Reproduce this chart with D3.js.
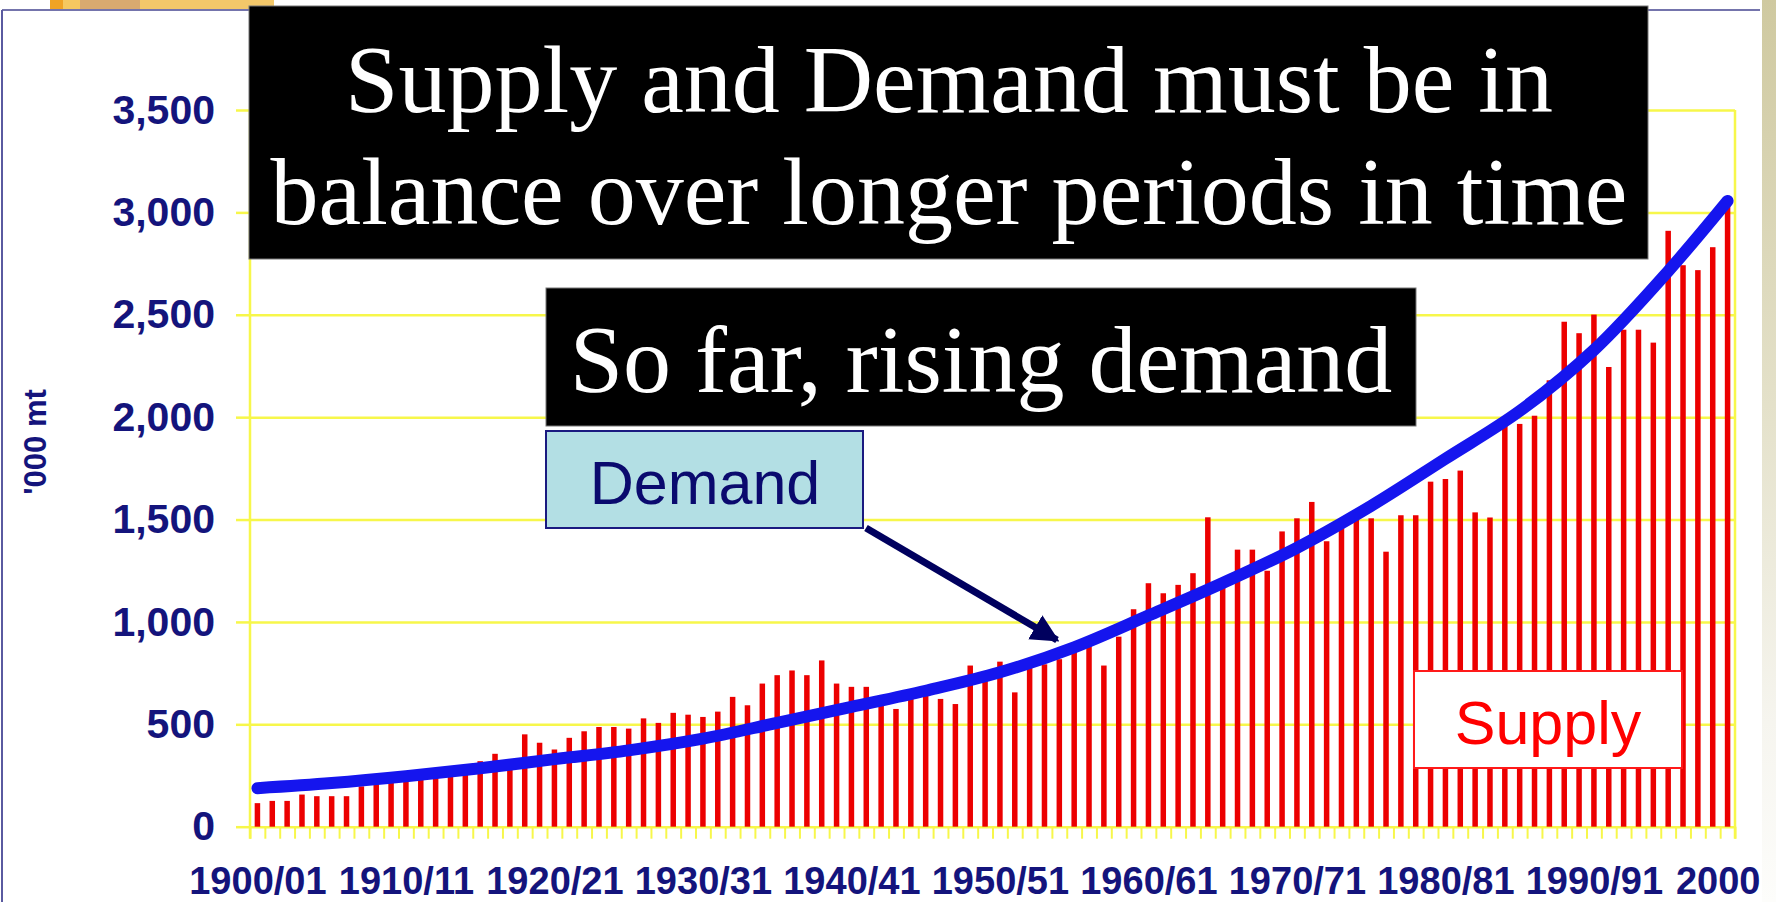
<!DOCTYPE html>
<html>
<head>
<meta charset="utf-8">
<script src="https://cdn.jsdelivr.net/npm/d3@7"></script>
<style>
  html, body { margin: 0; padding: 0; background: #fff; }
  svg { display: block; }
</style>
</head>
<body>
<div id="container"></div>
<script>
/* ---------------- DATA ---------------- */
// one bar per season, 1900/01 .. 1999/00, '000 mt
const startYear = 1900;
const supply = [
  115, 126, 126, 157, 149, 149, 149, 197, 213, 221,
  230, 238, 246, 262, 270, 320, 356, 300, 451, 410,
  377, 434, 466, 487, 487, 479, 529, 507, 556, 547,
  536, 562, 634, 593, 699, 740, 763, 740, 812, 699,
  683, 683, 620, 575, 627, 651, 624, 599, 787, 749,
  806, 656, 790, 793, 818, 871, 896, 787, 928, 1062,
  1189, 1140, 1181, 1238, 1511, 1175, 1353, 1353, 1250, 1442,
  1506, 1586, 1394, 1483, 1521, 1506, 1343, 1521, 1521, 1685,
  1698, 1739, 1535, 1510, 1960, 1967, 2007, 2180, 2466, 2410,
  2501, 2245, 2427, 2427, 2364, 2910, 2742, 2718, 2830, 3068
];

// demand trend read every 5 seasons
const demandYears = [1900, 1905, 1910, 1915, 1920, 1925, 1930, 1935, 1940, 1945,
  1950, 1955, 1960, 1965, 1970, 1975, 1980, 1985, 1990, 1995, 1999];
const demand = [188, 213, 246, 285, 330, 373, 430, 507, 585, 664,
  754, 876, 1031, 1190, 1362, 1567, 1797, 2030, 2328, 2713, 3056];

const tickYears = [1900, 1910, 1920, 1930, 1940, 1950, 1960, 1970, 1980, 1990, 2000];
const tickLabels = ["1900/01", "1910/11", "1920/21", "1930/31", "1940/41", "1950/51",
  "1960/61", "1970/71", "1980/81", "1990/91", "2000"];
const yTicks = [0, 500, 1000, 1500, 2000, 2500, 3000, 3500];

const titleLines = ["Supply and Demand must be in", "balance over longer periods in time"];
const subTitle = "So far, rising demand";
const yTitle = "'000 mt";

/* ---------------- SETUP ---------------- */
const W = 1776, H = 902;
const pL = 250, pR = 1735, pT = 110, pB = 826.7;
const navy = "#14147c";
const yellow = "#f7f74a";
const sans = "'Liberation Sans', Arial, sans-serif";
const serif = "'Liberation Serif', 'Times New Roman', serif";

const svg = d3.select("#container").append("svg")
  .attr("width", W)
  .attr("height", H);

svg.append("rect").attr("width", W).attr("height", H).attr("fill", "#fff");

// slide decoration at the top
const deco = [[50, 63, "#f0a324"], [63, 80, "#f5c860"], [80, 140, "#d8aa70"], [140, 274, "#f3c86a"]];
deco.forEach(([a, b, c]) => {
  svg.append("rect").attr("x", a).attr("y", 0).attr("width", b - a).attr("height", 9).attr("fill", c);
});

// picture frame
svg.append("line").attr("x1", 2).attr("x2", 1760).attr("y1", 10).attr("y2", 10)
  .attr("stroke", "#7474ac").attr("stroke-width", 2);
svg.append("line").attr("x1", 2).attr("x2", 2).attr("y1", 10).attr("y2", H)
  .attr("stroke", "#5a5aa0").attr("stroke-width", 2);

const seasons = d3.range(supply.length).map(i => startYear + i);

const x = d3.scaleLinear()
  .domain([startYear - 0.5, startYear + supply.length - 0.5])
  .range([pL, pR]);

const y = d3.scaleLinear()
  .domain([0, 3500])
  .range([pB, pT]);

/* ---------------- GRID ---------------- */
const grid = svg.append("g")
  .attr("transform", `translate(${pL},0)`)
  .call(d3.axisLeft(y).tickValues(yTicks).tickSize(-(pR - pL)).tickFormat(""));
grid.select(".domain").remove();
grid.selectAll("line").attr("stroke", yellow).attr("stroke-width", 2.5);

[pL, pR].forEach(xx => {
  svg.append("line")
    .attr("x1", xx).attr("x2", xx)
    .attr("y1", pT).attr("y2", pB + 12)
    .attr("stroke", yellow).attr("stroke-width", 2.5);
});

// small category ticks under the baseline
const xt = svg.append("g")
  .attr("transform", `translate(0,${pB})`)
  .call(d3.axisBottom(x)
    .tickValues(d3.range(supply.length + 1).map(i => startYear - 0.5 + i))
    .tickSize(12).tickFormat(""));
xt.select(".domain").remove();
xt.selectAll("line").attr("stroke", yellow).attr("stroke-width", 2);

/* ---------------- BARS ---------------- */
const bw = 5.5;
svg.append("g").selectAll("rect")
  .data(seasons)
  .enter()
  .append("rect")
  .attr("x", d => x(d) - bw / 2)
  .attr("y", (d, i) => y(supply[i]))
  .attr("width", bw)
  .attr("height", (d, i) => pB - y(supply[i]))
  .attr("fill", "#ec0000");

/* ---------------- DEMAND LINE ---------------- */
const line = d3.line()
  .x((d, i) => x(demandYears[i]))
  .y(d => y(d))
  .curve(d3.curveCatmullRom.alpha(0.5));

svg.append("path")
  .datum(demand)
  .attr("d", line)
  .attr("fill", "none")
  .attr("stroke", "#1515ee")
  .attr("stroke-width", 12)
  .attr("stroke-linecap", "round");

/* ---------------- AXES ---------------- */
const ya = svg.append("g")
  .attr("transform", `translate(${pL},0)`)
  .call(d3.axisLeft(y).tickValues(yTicks).tickSize(14).tickPadding(21).tickFormat(d3.format(",")));
ya.select(".domain").remove();
ya.selectAll("line").attr("stroke", yellow).attr("stroke-width", 2.5);
ya.selectAll("text")
  .attr("fill", navy)
  .attr("font-family", sans)
  .attr("font-weight", "bold")
  .attr("font-size", 41);

const xa = svg.append("g")
  .attr("transform", `translate(0,${pB})`)
  .call(d3.axisBottom(x).tickValues(tickYears).tickSize(0)
    .tickFormat((d, i) => tickLabels[i]));
xa.select(".domain").remove();
xa.selectAll("text")
  .attr("y", 67)
  .attr("dy", 0)
  .attr("fill", navy)
  .attr("font-family", sans)
  .attr("font-weight", "bold")
  .attr("font-size", 38);
// the last label sits against the right edge of the slide
xa.selectAll("text").filter(d => d === 2000)
  .attr("text-anchor", "end")
  .attr("x", 1760 - x(2000));

svg.append("text")
  .attr("transform", "translate(46,442) rotate(-90)")
  .attr("text-anchor", "middle")
  .attr("fill", navy)
  .attr("font-family", sans)
  .attr("font-weight", "bold")
  .attr("font-size", 31)
  .text(yTitle);

/* ---------------- TEXT BOXES ---------------- */
svg.append("rect")
  .attr("x", 249).attr("y", 6).attr("width", 1399).attr("height", 253)
  .attr("fill", "#000").attr("stroke", "#777").attr("stroke-width", 1);
titleLines.forEach((t, i) => {
  svg.append("text")
    .attr("x", 949).attr("y", 112 + i * 112)
    .attr("text-anchor", "middle")
    .attr("fill", "#fff")
    .attr("font-family", serif)
    .attr("font-size", 96)
    .text(t);
});

svg.append("rect")
  .attr("x", 546).attr("y", 288).attr("width", 870).attr("height", 138)
  .attr("fill", "#000").attr("stroke", "#777").attr("stroke-width", 1);
svg.append("text")
  .attr("x", 981).attr("y", 392)
  .attr("text-anchor", "middle")
  .attr("fill", "#fff")
  .attr("font-family", serif)
  .attr("font-size", 96)
  .text(subTitle);

svg.append("rect")
  .attr("x", 546).attr("y", 431).attr("width", 317).attr("height", 97)
  .attr("fill", "#b3dfe4").attr("stroke", "#1a1a80").attr("stroke-width", 2);
svg.append("text")
  .attr("x", 705).attr("y", 504)
  .attr("text-anchor", "middle")
  .attr("fill", "#0a0a6e")
  .attr("font-family", sans)
  .attr("font-size", 61)
  .text("Demand");

// arrow from the label to the demand line
const defs = svg.append("defs");
defs.append("marker")
  .attr("id", "head")
  .attr("viewBox", "0 0 10 10")
  .attr("refX", 9).attr("refY", 5)
  .attr("markerWidth", 4).attr("markerHeight", 4)
  .attr("markerUnits", "strokeWidth")
  .attr("orient", "auto")
  .append("path").attr("d", "M0,0L10,5L0,10z").attr("fill", "#00005e");

svg.append("line")
  .attr("x1", 866).attr("y1", 528)
  .attr("x2", 1057).attr("y2", 640)
  .attr("stroke", "#00005e").attr("stroke-width", 7)
  .attr("marker-end", "url(#head)");

svg.append("rect")
  .attr("x", 1414).attr("y", 671).attr("width", 268).attr("height", 97)
  .attr("fill", "#fff").attr("stroke", "#ff1a1a").attr("stroke-width", 2);
svg.append("text")
  .attr("x", 1548).attr("y", 744)
  .attr("text-anchor", "middle")
  .attr("fill", "#ff0000")
  .attr("font-family", sans)
  .attr("font-size", 61)
  .text("Supply");

/* ---------------- RIGHT STRIP ---------------- */
const grad = defs.append("linearGradient")
  .attr("id", "strip").attr("x1", 0).attr("x2", 0).attr("y1", 0).attr("y2", 1);
grad.append("stop").attr("offset", "0%").attr("stop-color", "#cfc9a0");
grad.append("stop").attr("offset", "45%").attr("stop-color", "#e4e1ca");
grad.append("stop").attr("offset", "80%").attr("stop-color", "#f6f5ef");
grad.append("stop").attr("offset", "100%").attr("stop-color", "#fdfdfb");
svg.append("rect")
  .attr("x", 1762).attr("y", 0).attr("width", W - 1762).attr("height", H)
  .attr("fill", "url(#strip)");
</script>
</body>
</html>
